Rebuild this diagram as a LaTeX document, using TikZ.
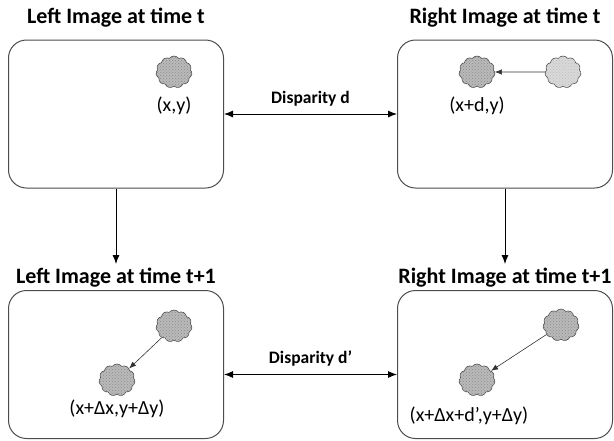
\documentclass[tikz,border=0pt]{standalone}
\usepackage{fontspec}
\setmainfont{Carlito}
\usetikzlibrary{shapes.symbols,patterns,calc,arrows.meta}

\tikzset{
  frame/.style={draw=black!70, line width=1pt, rounded corners=18pt,
    minimum width=215pt, minimum height=148pt},
  heading/.style={font=\fontsize{22}{24}\selectfont\bfseries, anchor=base},
  blobshape/.style={cloud, cloud puffs=11, cloud puff arc=110, draw=black!70,
    line width=0.6pt, minimum width=36pt, minimum height=32pt, inner sep=0pt},
  blob/.style={blobshape, fill=gray!55,
    postaction={pattern=crosshatch dots, pattern color=black!45}},
  pale/.style={blobshape, fill=gray!30,
    postaction={pattern=crosshatch dots, pattern color=black!25}},
  coordlbl/.style={font=\fontsize{20}{22}\selectfont},
  displbl/.style={font=\fontsize{17.5}{19}\selectfont\bfseries, above=4pt},
  arr/.style={-{Latex[length=9pt,width=7pt]}, line width=0.9pt},
  both/.style={{Latex[length=9pt,width=7pt]}-{Latex[length=9pt,width=7pt]}, line width=0.9pt},
  move/.style={-{Latex[length=7pt,width=5.5pt]}, line width=0.6pt, draw=black!80},
}

\begin{document}
\begin{tikzpicture}[x=1pt, y=-1pt]
  \useasboundingbox (0,0) rectangle (614,440);

  % the four images
  \node[frame] (lt) at (116,114) {};
  \node[frame] (rt) at (505,114) {};
  \node[frame] (lb) at (116,364.5) {};
  \node[frame] (rb) at (505,364.5) {};

  \node[heading] (ltTitle) at (116,23) {Left Image at time t};
  \node[heading] (rtTitle) at (505,23) {Right Image at time t};
  \node[heading] (lbTitle) at (116,283) {Left Image at time t+1};
  \node[heading] (rbTitle) at (505,283) {Right Image at time t+1};

  % time steps
  \draw[arr] (lt.south) -- (lbTitle.north);
  \draw[arr] (rt.south) -- (rbTitle.north);

  % disparities
  \draw[both] (lt.east) -- (rt.west)
    node[midway, displbl] {Disparity d};
  \draw[both] ($(lb.east)+(0,10)$) -- ($(rb.west)+(0,10)$)
    node[midway, displbl] {Disparity d’};

  % left image, time t
  \node[blob] (ltObj) at (174,72) {};
  \node[coordlbl] (ltLbl) at (174,106) {(x,y)};

  % right image, time t
  \node[blob] (rtObj) at (477,72) {};
  \node[pale] (rtSrc) at (563,72) {};
  \draw[move] (rtSrc) -- (rtObj);
  \node[coordlbl] (rtLbl) at (477,106) {(x+d,y)};

  % left image, time t+1
  \node[blob] (lbSrc) at (174,326) {};
  \node[blob] (lbObj) at (117,380) {};
  \draw[move] (lbSrc) -- (lbObj);
  \node[coordlbl] (lbLbl) at (117,409) {(x+Δx,y+Δy)};

  % right image, time t+1
  \node[blob] (rbSrc) at (561,325) {};
  \node[blob] (rbObj) at (477,380) {};
  \draw[move] (rbSrc) -- (rbObj);
  \node[coordlbl] (rbLbl) at (469,416) {(x+Δx+d’,y+Δy)};
\end{tikzpicture}
\end{document}
